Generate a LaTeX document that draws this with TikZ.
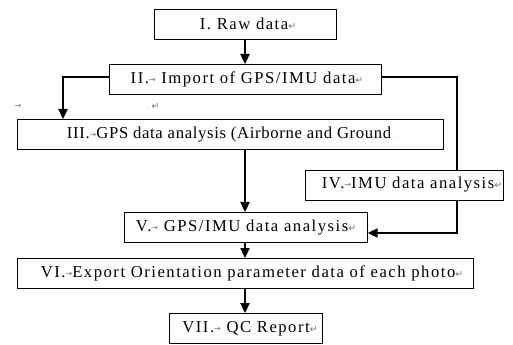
\documentclass[tikz,border=0pt]{standalone}
\usepackage{fontspec}
\setmainfont{Liberation Serif}[LetterSpace=9]
\newfontfamily\marksfont{DejaVu Sans}
\usetikzlibrary{arrows.meta}
\definecolor{markgray}{RGB}{110,110,110}
% small gray editing marks (tab arrow, paragraph return)
\newcommand{\tabmark}{{\marksfont\color{markgray}\fontsize{6}{6}\selectfont\raisebox{0.25ex}{→}}}
\newcommand{\retmark}{{\marksfont\color{markgray}\fontsize{7}{7}\selectfont ↵}}
\tikzset{
  box/.style={draw, line width=0.8pt, minimum height=22.5pt, inner sep=0pt, anchor=north west},
  lbl/.style={font=\fontsize{12.5}{14}\selectfont, inner sep=0pt},
  flow/.style={line width=0.8pt, -{Triangle[width=7pt,length=7.5pt]}},
  link/.style={line width=0.8pt},
}
\begin{document}
\begin{tikzpicture}[x=0.75pt,y=-0.75pt]
\useasboundingbox (0,0) rectangle (513,345);
% boxes (pixel grid, y downwards)
\node[box, minimum width=136.5pt] (b1) at (154,9) {};
\node[box, minimum width=204pt] (b2) at (109,64) {};
\node[box, minimum width=319.5pt] (b3) at (17,119) {};
\node[box, minimum width=148.5pt] (b4) at (305,170) {};
\node[box, minimum width=182pt] (b5) at (124,212) {};
\node[box, minimum width=342pt] (b6) at (17,258) {};
\node[box, minimum width=114.75pt] (b7) at (169,313) {};
% labels
\node[lbl] (t1) at (248,24) {I. Raw data\retmark};
\node[lbl] (t2) at (247,79.5) {II.\tabmark\ Import of GPS/IMU data\retmark};
\node[lbl] (t3) at (233,134.5) {\addfontfeature{LetterSpace=4}III.\tabmark GPS data analysis (Airborne and Ground {\color{markgray}\tiny$\cdot$}};
\node[lbl] (t4) at (412,185) {IV.\tabmark IMU data analysis\retmark};
\node[lbl] (t5) at (246,227.5) {V.\tabmark\ GPS/IMU data analysis\retmark};
\node[lbl] (t6) at (252,273) {VI.\tabmark Export Orientation parameter data of each photo\retmark};
\node[lbl] (t7) at (250,328.5) {VII.\tabmark\ QC Report\retmark};
% stray marks between the boxes
\node[inner sep=0pt] (m1) at (18,107) {\tabmark};
\node[inner sep=0pt] (m2) at (153,107) {{\color{markgray}\tiny$\cdot$}\,\retmark};
% connectors
\coordinate (cl) at (63,77);
\coordinate (cr) at (457,77);
\coordinate (cd) at (457,233);
\draw[flow] (b1.south -| 245,0) -- (b2.north -| 245,0);
\draw[flow] (b2.west |- cl) -- (cl) -- (b3.north -| cl);
\draw[link] (b2.east |- cr) -- (cr) -- (b4.north -| cr);
\draw[flow] (b3.south -| 245,0) -- (b5.north -| 245,0);
\draw[flow] (b4.south -| cd) -- (cd) -- (b5.east |- cd);
\draw[flow] (b5.south -| 245,0) -- (b6.north -| 245,0);
\draw[flow] (b6.south -| 245,0) -- (b7.north -| 245,0);
\end{tikzpicture}
\end{document}
